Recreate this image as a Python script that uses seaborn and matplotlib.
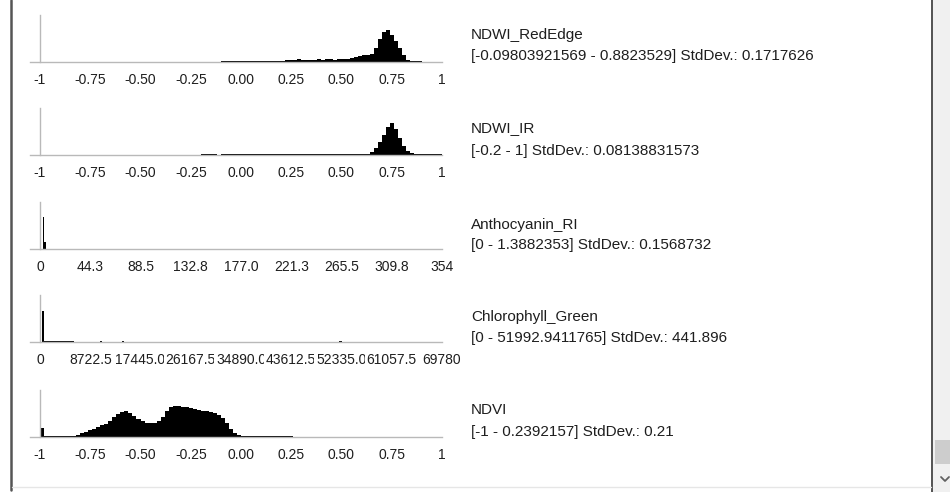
import numpy as np
import pandas as pd
import matplotlib
matplotlib.use("Agg")
import matplotlib.pyplot as plt
import seaborn as sns
from matplotlib.lines import Line2D
from matplotlib.patches import Rectangle

# ---------------- data ----------------
names = ["NDWI_RedEdge", "NDWI_IR", "Anthocyanin_RI", "Chlorophyll_Green", "NDVI"]
stats = ["[-0.09803921569 - 0.8823529] StdDev.: 0.1717626",
         "[-0.2 - 1] StdDev.: 0.08138831573",
         "[0 - 1.3882353] StdDev.: 0.1568732",
         "[0 - 51992.9411765] StdDev.: 441.896",
         "[-1 - 0.2392157] StdDev.: 0.21"]

# axis ranges
range_unit = [-1.0, 1.0]
range_anth = [0.0, 354.0]
range_chl = [0.0, 69780.0]

# tick labels
ticks_unit = ["-1", "-0.75", "-0.50", "-0.25", "0.00", "0.25", "0.50", "0.75", "1"]
ticks_anth = ["0", "44.3", "88.5", "132.8", "177.0", "221.3", "265.5", "309.8", "354"]
ticks_chl = ["0", "8722.5", "17445.0", "26167.5", "34890.0", "43612.5", "52335.0", "61057.5", "69780"]

# histogram counts (relative frequency, % of panel height)
# NDWI_RedEdge: bins of 0.02 starting at -0.10
re_start, re_width = -0.10, 0.02
re_counts = [1.5, 1.5, 1.5, 1.5, 1.5, 1.5, 1.5, 1.5, 1.5, 1.5,
             1.5, 1.5, 1.5, 1.5, 1.5, 2, 4, 4, 4, 7,
             4, 4, 4, 5, 6, 5, 6, 6, 5, 6,
             7, 7, 9, 11, 13, 14, 15, 17, 30, 50,
             63, 69, 58, 45, 30, 14, 4, 2, 2, 1.5]

# NDWI_IR: bins of 0.02 starting at -0.20
ir_start, ir_width = -0.20, 0.02
ir_counts = [2, 2, 2, 2, 0, 2, 2, 2, 2, 2,
             2, 2, 2, 2, 2, 2, 2, 2, 2, 2,
             2, 2, 2, 2, 2, 2, 2, 2, 2, 2,
             2, 2, 2, 2, 2, 2, 2, 2, 2, 2,
             2, 2, 6, 15, 28, 42, 60, 68, 56, 36,
             20, 9, 4, 2, 2, 2, 2, 2, 2, 2]

# Anthocyanin_RI: bins of 0.9 starting at 0
anth_start, anth_width = 0.0, 0.9
anth_counts = [0, 0, 0, 69, 15, 15]

# Chlorophyll_Green: sparse values on 200 bins of the axis range
chl_values = [520, 870, 1220, 1570, 1920, 2270, 2620, 2970, 3320, 3660,
              4010, 4360, 4710, 5060, 5410, 5760, 10700, 14480, 51990]
chl_counts = [66, 1.5, 1.5, 3, 3, 3, 3, 3, 3, 3,
              3, 3, 3, 3, 2.5, 2.5, 2.5, 2.5, 2.5]
chl_nbins = 200

# NDVI: bins of 0.02 starting at -1.00
ndvi_start, ndvi_width = -1.00, 0.02
ndvi_counts = [20, 2.5, 2.5, 2.5, 2.5, 2.5, 2.5, 2.5, 2.5,
               5, 8, 11, 14, 18, 22, 25, 28, 33, 42,
               48, 53, 55, 52, 45, 39, 34, 30, 29, 30,
               33, 42, 55, 63, 66, 65, 64, 63, 61, 60,
               58, 56, 55, 53, 50, 46, 40, 30, 18, 9,
               4, 2, 2, 2, 2, 2, 2, 2, 2, 2,
               1.5, 2, 2, 2]

# ---------------- style ----------------
sns.set_style("white")
plt.rcParams["font.family"] = ["Liberation Sans", "DejaVu Sans"]

W, H = 950, 492
fig = plt.figure(figsize=(W / 100, H / 100), dpi=100)
fig.patch.set_facecolor("white")

def fx(px):
    return px / W

def fy(py):
    return 1 - py / H

AX_LEFT, AX_RIGHT = 30, 442   # px: left of baseline, right end (max value)
DATA_LEFT = 40                # px: where min value sits
PANEL_H = 47
baselines = [62, 155, 249, 342, 437]
name_y = [35, 128, 225, 317, 410]
stat_y = [56, 151, 245, 338, 432]
SPINE = "#b9b9b9"
TXT = "#1e1e1e"


def make_hist(ax, centers, counts, edges):
    df = pd.DataFrame({"value": np.asarray(centers, float),
                       "freq": np.asarray(counts, float)})
    sns.histplot(data=df, x="value", weights="freq", bins=list(edges), ax=ax,
                 element="step", fill=True, color="black", alpha=1,
                 linewidth=0, legend=False)


def panel(i, rng, labels, centers, counts, edges, bbox_labels=False):
    b = baselines[i]
    ax = fig.add_axes([fx(AX_LEFT), fy(b), fx(AX_RIGHT - AX_LEFT), PANEL_H / H])
    make_hist(ax, centers, counts, edges)
    lo, hi = rng
    span = hi - lo
    ax.set_xlim(lo - span * (DATA_LEFT - AX_LEFT) / (AX_RIGHT - DATA_LEFT), hi)
    ax.set_ylim(0, 100)
    ax.set_facecolor("none")
    for s in ["top", "right"]:
        ax.spines[s].set_visible(False)
    ax.spines["left"].set_position(("data", lo))
    ax.spines["left"].set_color(SPINE)
    ax.spines["bottom"].set_color(SPINE)
    ax.spines["left"].set_linewidth(1)
    ax.spines["bottom"].set_linewidth(1)
    ax.set_yticks([])
    ax.set_xticks(np.linspace(lo, hi, len(labels)))
    ax.set_xticklabels(labels)
    ax.tick_params(axis="x", direction="in", length=2.5, color=SPINE, pad=8,
                   labelsize=10, labelcolor=TXT)
    if bbox_labels:
        for t in ax.get_xticklabels():
            t.set_bbox(dict(facecolor="white", edgecolor="none", pad=1.5))
    ax.set_xlabel("")
    ax.set_ylabel("")
    fig.text(fx(471), fy(name_y[i]), names[i], fontsize=11, color=TXT, va="center", ha="left")
    fig.text(fx(471), fy(stat_y[i]), stats[i], fontsize=11, color=TXT, va="center", ha="left")
    return ax


def regular(start, width, counts):
    counts = np.asarray(counts, dtype=float)
    edges = start + width * np.arange(len(counts) + 1)
    centers = (edges[:-1] + edges[1:]) / 2
    return centers, counts, edges


c, v, e = regular(re_start, re_width, re_counts)
panel(0, range_unit, ticks_unit, c, v, e)
c, v, e = regular(ir_start, ir_width, ir_counts)
panel(1, range_unit, ticks_unit, c, v, e)
c, v, e = regular(anth_start, anth_width, anth_counts)
panel(2, range_anth, ticks_anth, c, v, e)
chl_edges = np.linspace(range_chl[0], range_chl[1], chl_nbins + 1)
panel(3, range_chl, ticks_chl, chl_values, chl_counts, chl_edges, bbox_labels=True)
c, v, e = regular(ndvi_start, ndvi_width, ndvi_counts)
panel(4, range_unit, ticks_unit, c, v, e)

# ---------------- window decorations ----------------
def fig_line(xs, ys, **kw):
    fig.add_artist(Line2D([fx(x) for x in xs], [fy(y) for y in ys],
                          transform=fig.transFigure, **kw))

fig.add_artist(Rectangle((fx(933), 0), fx(W - 933), 1, transform=fig.transFigure,
                         facecolor="#f0f0f0", edgecolor="none"))
fig.add_artist(Rectangle((fx(935), fy(464)), fx(15), 24 / H, transform=fig.transFigure,
                         facecolor="#cdcdcd", edgecolor="none"))
fig_line([941, 945, 949], [477, 481, 477], color="#606060", lw=1.3)
fig_line([11, 11], [0, 490], color="#555555", lw=1.8)
fig_line([932, 932], [0, 492], color="#444444", lw=1.3)
fig_line([12, 931], [487, 487], color="#e6e6e6", lw=1)

fig.savefig("out.png", dpi=100, facecolor="white")
